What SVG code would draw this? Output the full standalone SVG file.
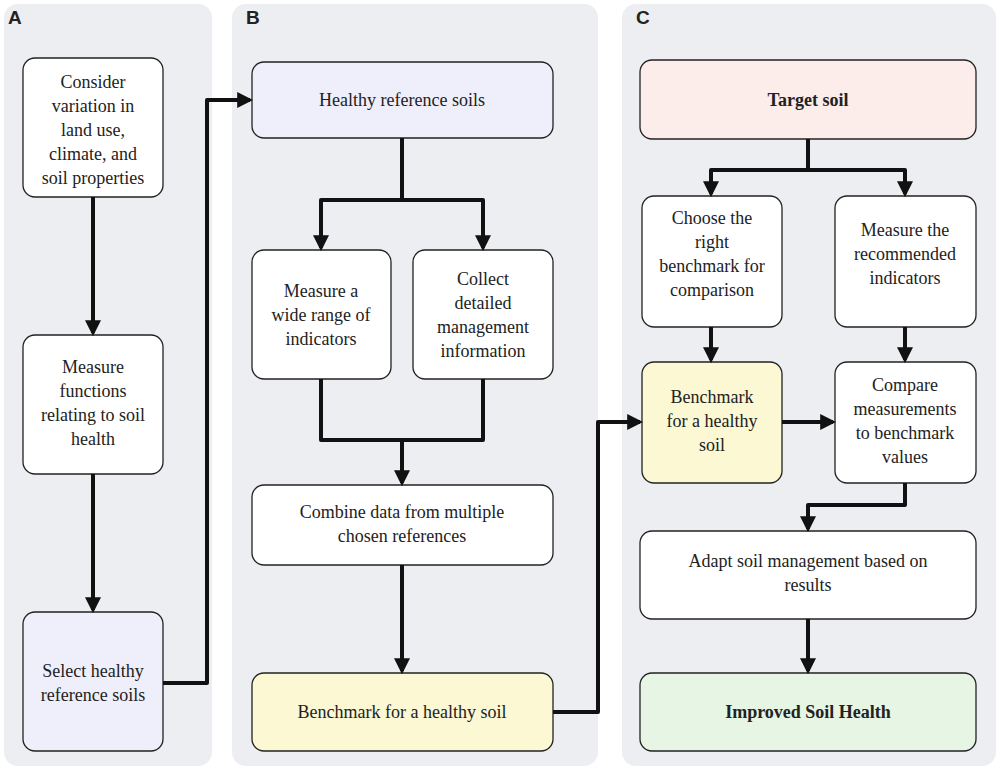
<svg xmlns="http://www.w3.org/2000/svg" width="1000" height="770" viewBox="0 0 1000 770">
<style>
.panel{fill:#eceef1}
.n{stroke:#222;stroke-width:1.3}
.w{fill:#fff}.lav{fill:#efeffb}.yel{fill:#fbf8d3}.pink{fill:#fcecea}.grn{fill:#e6f5e4}
text{font-family:"Liberation Serif",serif;font-size:18px;fill:#222;text-anchor:middle}
.b{font-weight:bold}
.lbl{font-family:"Liberation Sans",sans-serif;font-weight:bold;font-size:19px;text-anchor:start}
.c{fill:none;stroke:#111;stroke-width:4;stroke-linejoin:round;marker-end:url(#ah)}
.p{fill:none;stroke:#111;stroke-width:4;stroke-linejoin:round}
</style>
<defs><marker id="ah" viewBox="0 0 10 10" refX="8" refY="5" markerWidth="4" markerHeight="4" orient="auto" markerUnits="strokeWidth"><path d="M0,0L10,5L0,10z" fill="#111"/></marker></defs>
<rect class="panel" x="4" y="4" width="208" height="762" rx="14"/>
<rect class="panel" x="232" y="4" width="366" height="762" rx="14"/>
<rect class="panel" x="622" y="4" width="374" height="762" rx="14"/>
<text class="lbl" x="8" y="24">A</text>
<text class="lbl" x="246" y="24">B</text>
<text class="lbl" x="636" y="24">C</text>
<g id="a1"><rect class="n w" x="23" y="58" width="140" height="139" rx="12"/><text x="93" y="88">Consider</text><text x="93" y="112">variation in</text><text x="93" y="136">land use,</text><text x="93" y="160">climate, and</text><text x="93" y="184">soil properties</text></g>
<g id="a2"><rect class="n w" x="23" y="335" width="140" height="139" rx="12"/><text x="93" y="373">Measure</text><text x="93" y="397">functions</text><text x="93" y="421">relating to soil</text><text x="93" y="445">health</text></g>
<g id="a3"><rect class="n lav" x="23" y="612" width="140" height="139" rx="12"/><text x="93" y="677">Select healthy</text><text x="93" y="701">reference soils</text></g>
<g id="b1"><rect class="n lav" x="252" y="62" width="301" height="76" rx="12"/><text x="402" y="106">Healthy reference soils</text></g>
<g id="b2"><rect class="n w" x="252" y="250" width="139" height="129" rx="12"/><text x="321" y="297">Measure a</text><text x="321" y="321">wide range of</text><text x="321" y="345">indicators</text></g>
<g id="b3"><rect class="n w" x="413" y="250" width="140" height="129" rx="12"/><text x="483" y="285">Collect</text><text x="483" y="309">detailed</text><text x="483" y="333">management</text><text x="483" y="357">information</text></g>
<g id="b4"><rect class="n w" x="252" y="485" width="301" height="80" rx="12"/><text x="402" y="518">Combine data from multiple</text><text x="402" y="542">chosen references</text></g>
<g id="b5"><rect class="n yel" x="252" y="673" width="301" height="78" rx="12"/><text x="402" y="718">Benchmark for a healthy soil</text></g>
<g id="c1"><rect class="n pink" x="640" y="60" width="336" height="79" rx="12"/><text class="b" x="808" y="106">Target soil</text></g>
<g id="c2"><rect class="n w" x="642" y="196" width="140" height="131" rx="12"/><text x="712" y="224">Choose the</text><text x="712" y="248">right</text><text x="712" y="272">benchmark for</text><text x="712" y="296">comparison</text></g>
<g id="c3"><rect class="n w" x="835" y="196" width="141" height="131" rx="12"/><text x="905" y="236">Measure the</text><text x="905" y="260">recommended</text><text x="905" y="284">indicators</text></g>
<g id="c4"><rect class="n yel" x="642" y="362" width="140" height="121" rx="12"/><text x="712" y="403">Benchmark</text><text x="712" y="427">for a healthy</text><text x="712" y="451">soil</text></g>
<g id="c5"><rect class="n w" x="835" y="362" width="141" height="121" rx="12"/><text x="905" y="391">Compare</text><text x="905" y="415">measurements</text><text x="905" y="439">to benchmark</text><text x="905" y="463">values</text></g>
<g id="c6"><rect class="n w" x="640" y="531" width="336" height="88" rx="12"/><text x="808" y="567">Adapt soil management based on</text><text x="808" y="591">results</text></g>
<g id="c7"><rect class="n grn" x="640" y="673" width="336" height="78" rx="12"/><text class="b" x="808" y="718">Improved Soil Health</text></g>
<g id="connectors">
<path class="c" d="M93,197V333"/>
<path class="c" d="M93,474V610"/>
<path class="c" d="M163,683H207V100H250"/>
<path class="c" d="M402,138V200H321V248"/>
<path class="c" d="M402,200H483V248"/>
<path class="c" d="M321,379V440H402V483"/>
<path class="p" d="M483,379V440H402"/>
<path class="c" d="M402,565V671"/>
<path class="c" d="M553,712H598V422H640"/>
<path class="c" d="M808,139V170H711V194"/>
<path class="c" d="M808,170H905V194"/>
<path class="c" d="M711,327V360"/>
<path class="c" d="M905,327V360"/>
<path class="c" d="M782,422H833"/>
<path class="c" d="M905,483V505H808V529"/>
<path class="c" d="M808,619V671"/>
</g>
</svg>
